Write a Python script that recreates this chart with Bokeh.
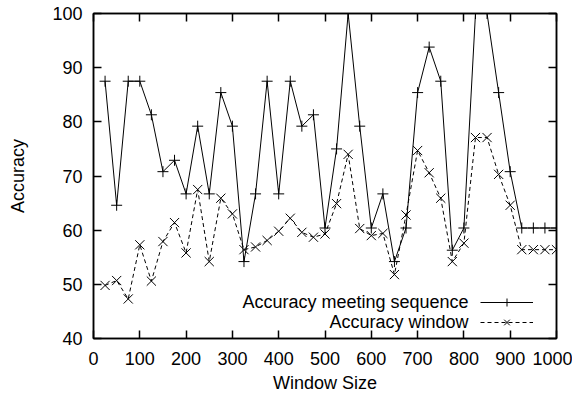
from bokeh.plotting import figure
from bokeh.models import (Range1d, FixedTicker, LinearAxis, Legend, LegendItem, Label)
from bokeh.embed import file_html
from bokeh.resources import INLINE

window_size = [25, 50, 75, 100, 125, 150, 175, 200, 225, 250,
               275, 300, 325, 350, 375, 400, 425, 450, 475, 500,
               525, 550, 575, 600, 625, 650, 675, 700, 725, 750,
               775, 800, 825, 850, 875, 900, 925, 950, 975, 1000]
acc_meeting_sequence = [87.5, 64.6, 87.5, 87.5, 81.3, 70.8, 72.9, 66.7, 79.2, 66.7,
                        85.4, 79.2, 54.2, 66.7, 87.5, 66.7, 87.5, 79.2, 81.3, 60.4,
                        75.0, 100.0, 79.2, 60.4, 66.7, 54.2, 60.4, 85.4, 93.8, 87.5,
                        56.3, 60.4, 100.0, 100.0, 85.4, 70.8, 60.4, 60.4, 60.4, 60.4]
acc_window = [49.8, 50.7, 47.3, 57.3, 50.6, 57.9, 61.4, 55.8, 67.5, 54.2,
              65.9, 63.0, 56.4, 56.9, 58.1, 59.8, 62.2, 59.6, 58.7, 59.3,
              64.9, 74.0, 60.3, 59.0, 59.4, 51.8, 62.8, 74.7, 70.6, 65.9,
              54.2, 57.6, 77.1, 77.1, 70.3, 64.6, 56.4, 56.4, 56.4, 56.4]
x_ticks = [0, 100, 200, 300, 400, 500, 600, 700, 800, 900, 1000]
y_ticks = [40, 50, 60, 70, 80, 90, 100]
series_names = ["Accuracy meeting sequence", "Accuracy window"]

FONT = "Liberation Sans"
FS = "18px"

p = figure(width=572, height=397, output_backend="svg", toolbar_location=None,
           x_range=Range1d(0, 1000), y_range=Range1d(40, 100),
           min_border_left=93, min_border_right=16, min_border_top=13, min_border_bottom=59,
           x_axis_label="Window Size", y_axis_label="Accuracy")
p.grid.visible = False
p.outline_line_color = "black"
p.outline_line_width = 1.5
p.background_fill_color = "white"
p.border_fill_color = "white"

def style_axis(ax, ticks, show_labels=True):
    ax.ticker = FixedTicker(ticks=ticks)
    ax.major_tick_in = 8
    ax.major_tick_out = 0
    ax.minor_tick_in = 0
    ax.minor_tick_out = 0
    ax.major_tick_line_color = "black"
    ax.major_tick_line_width = 1.5
    ax.axis_line_color = "black"
    ax.axis_line_width = 1.5
    ax.major_label_text_font = FONT
    ax.major_label_text_color = "black"
    ax.axis_label_text_font = FONT
    ax.axis_label_text_font_style = "normal"
    ax.axis_label_text_font_size = FS
    ax.axis_label_text_color = "black"
    if show_labels:
        ax.major_label_text_font_size = FS
    else:
        ax.major_label_overrides = {t: "" for t in ticks}
        ax.major_label_text_font_size = "1px"
        ax.major_label_standoff = 0

style_axis(p.xaxis[0], x_ticks)
style_axis(p.yaxis[0], y_ticks)
p.xaxis[0].major_label_standoff = 13
p.xaxis[0].axis_label_standoff = 5
p.yaxis[0].major_label_standoff = 11
p.yaxis[0].axis_label_standoff = 21

top_ax = LinearAxis()
style_axis(top_ax, x_ticks, show_labels=False)
p.add_layout(top_ax, "above")
right_ax = LinearAxis()
style_axis(right_ax, y_ticks, show_labels=False)
p.add_layout(right_ax, "right")

l1 = p.line(window_size, acc_meeting_sequence, line_color="black", line_width=1)
m1 = p.scatter(window_size, acc_meeting_sequence, marker="cross", size=11,
               line_color="black", line_width=1)
l2 = p.line(window_size, acc_window, line_color="black", line_width=1, line_dash="4 3")
m2 = p.scatter(window_size, acc_window, marker="x", size=13,
               line_color="black", line_width=1)

legend = Legend(items=[LegendItem(label=" ", renderers=[l1, m1]),
                       LegendItem(label=" ", renderers=[l2, m2])],
                location=(387, 6), glyph_width=53, glyph_height=20,
                label_width=0, label_height=20, label_standoff=0,
                spacing=0, padding=0, margin=0,
                label_text_font_size="1px",
                border_line_color=None, background_fill_alpha=0)
p.add_layout(legend)

for name, ypos in zip(series_names, [46.7, 43.0]):
    p.add_layout(Label(x=810, y=ypos, text=name, text_align="right",
                       text_baseline="middle", text_font=FONT,
                       text_font_size=FS, text_color="black"))

open("out.html", "w").write(file_html(p, INLINE))
